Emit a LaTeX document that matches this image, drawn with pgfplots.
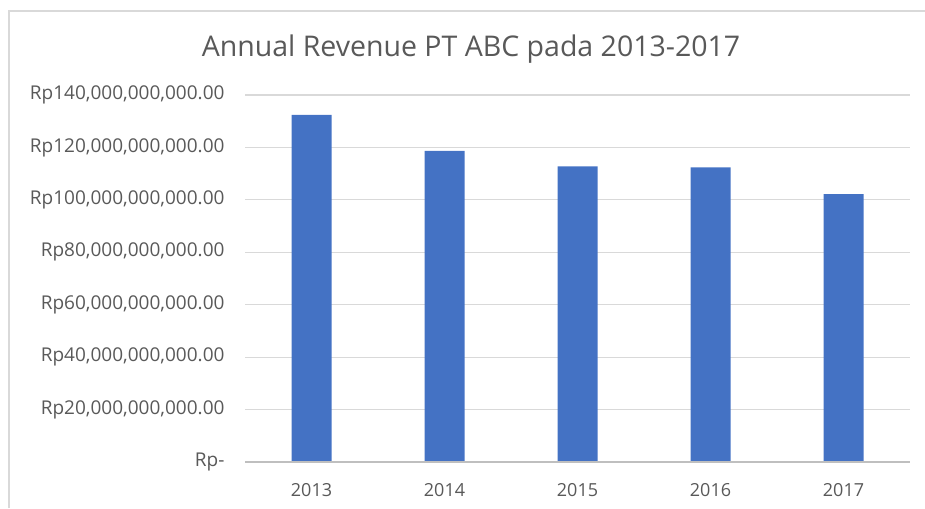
\documentclass[border=0pt]{standalone}
\usepackage{pgfplots}
\pgfplotsset{compat=1.18}
\usepackage{fontspec}
\setmainfont{Open Sans}
\definecolor{barblue}{HTML}{4472C4}
\definecolor{txtgray}{HTML}{595959}
\definecolor{gridgray}{HTML}{D9D9D9}
\definecolor{axisgray}{HTML}{BFBFBF}
\begin{document}
\begin{tikzpicture}[x=1pt,y=1pt]
\useasboundingbox (0,0) rectangle (925,508);
\draw[gridgray, line width=1.5pt] (9,0) -- (9,497) -- (925,497);
\node[text=txtgray, font=\fontsize{28.5}{28.5}\selectfont] at (471,459) {Annual Revenue PT ABC pada 2013-2017};
\begin{axis}[
  at={(245pt,46pt)}, anchor=south west,
  scale only axis, width=665pt, height=367pt,
  xmin=-0.5, xmax=4.5, ymin=0, ymax=140,
  xtick={0,1,2,3,4},
  xticklabels={2013,2014,2015,2016,2017},
  ytick={0,20,40,60,80,100,120,140},
  yticklabels={Rp-,{Rp20,000,000,000.00},{Rp40,000,000,000.00},{Rp60,000,000,000.00},{Rp80,000,000,000.00},{Rp100,000,000,000.00},{Rp120,000,000,000.00},{Rp140,000,000,000.00}},
  ymajorgrids, grid style={gridgray, line width=1.2pt},
  axis line style={draw=none},
  major tick length=0pt,
  tick style={draw=none},
  yticklabel style={text=txtgray, font=\fontsize{19}{19}\selectfont, xshift=-17pt},
  xticklabel style={text=txtgray, font=\fontsize{18}{18}\selectfont, anchor=base, yshift=-34pt},
  ybar, bar width=40pt,
]
\addplot[fill=barblue, draw=none] coordinates {(0,132.4) (1,118.7) (2,112.8) (3,112.4) (4,102.2)};
\draw[axisgray, line width=1.2pt] (axis cs:-0.5,0) -- (axis cs:4.5,0);
\end{axis}
\end{tikzpicture}
\end{document}
